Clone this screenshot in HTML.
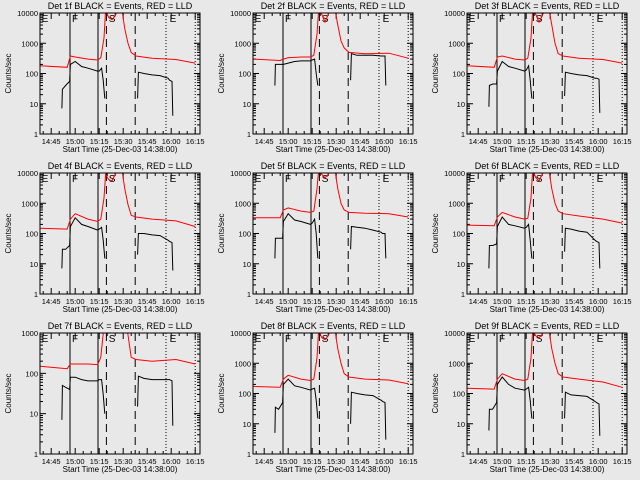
<!DOCTYPE html>
<html><head><meta charset="utf-8"><style>
body{margin:0;background:#e8e8e8}
svg{display:block}
text{font-family:"Liberation Sans",sans-serif;fill:#000}
</style></head><body>
<svg id="c" width="640" height="480"></svg>
<script>
const detectors = ["1f","2f","3f","4f","5f","6f","7f","8f","9f"];
const xTickLabels = ["14:45","15:00","15:15","15:30","15:45","16:00","16:15"];
const xTickMinutes = [7,22,37,52,67,82,97];
const markerMinutes = [18.75,36.25,41.5,59.5,78.75,97];
const markerStyles = ["solid","solid","dash","dash","dot","dot"];
const flagLabels = ["E","F","S","E"];
const flagMinutes = [1,20,43,81];
const redTimes = [0,17,19,22,30,36,38,40,41,43,45,47,49,51,53,55,57,60,70,85,97];
const red1 = [180,160,380,350,300,280,330,1500,12000,7000,6000,8000,15000,15000,3000,1000,500,380,320,290,220];
const red2 = [300,270,300,330,350,350,400,2000,12000,9000,5000,9000,15000,15000,4000,1200,700,500,450,470,320];
const red3 = [180,160,350,380,300,280,320,1500,12000,9000,5000,8000,15000,15000,4000,1000,450,380,320,290,220];
const red4 = [150,140,300,450,300,250,300,1500,9000,6000,5500,9000,15000,15000,3000,900,400,350,300,260,170];
const red5 = [330,330,600,700,550,500,550,3000,12000,9000,7000,9000,15000,15000,3000,1000,600,500,470,450,350];
const red6 = [190,180,350,500,350,300,320,1500,12000,7000,5500,9000,15000,15000,3000,1000,550,450,380,300,220];
const red7 = [150,130,170,170,170,165,250,1500,5000,5000,5000,5000,5000,5000,3000,900,250,220,200,220,170];
const red8 = [170,160,300,400,300,270,300,1500,12000,7000,6000,8000,15000,15000,3000,1000,450,350,300,280,210];
const red9 = [150,140,300,450,300,270,300,1500,12000,8000,7000,9000,15000,15000,3000,1000,450,350,300,240,160];
const blackTimesA = [13.7,14,16,18.5,19,22,26,30,36,37,38.5,39.5,40.5];
const blackA1 = [7,30,40,55,200,250,170,150,120,120,150,60,15];
const blackA2 = [40,200,200,200,200,220,250,260,260,280,300,100,40];
const blackA3 = [8,40,45,45,120,250,170,150,120,130,180,60,15];
const blackA4 = [7,30,30,40,170,330,200,170,130,140,160,60,15];
const blackA5 = [15,70,70,70,250,450,280,250,200,220,300,100,15];
const blackA6 = [7,40,40,45,170,350,200,180,150,160,200,60,15];
const blackA7 = [7,50,45,40,80,80,70,65,65,70,70,30,10];
const blackA8 = [5,35,30,50,200,300,180,160,130,140,150,60,15];
const blackA9 = [6,30,30,50,200,350,200,150,130,140,160,60,15];
const blackTimesB = [61,61.5,65,70,75,80,81,82.5,83];
const blackB1 = [15,110,100,90,85,70,60,55,4];
const blackB2 = [60,450,400,400,400,380,380,380,40];
const blackB3 = [18,110,100,90,85,70,70,65,5];
const blackB4 = [20,100,100,90,85,60,55,50,6];
const blackB5 = [30,170,160,150,130,110,100,100,15];
const blackB6 = [25,150,140,120,110,60,55,50,7];
const blackB7 = [15,85,75,70,70,70,70,65,5];
const blackB8 = [10,110,100,90,85,60,55,50,3];
const blackB9 = [15,110,90,85,80,55,50,45,4];
const reds=[red1,red2,red3,red4,red5,red6,red7,red8,red9];
const bAs=[blackA1,blackA2,blackA3,blackA4,blackA5,blackA6,blackA7,blackA8,blackA9];
const bBs=[blackB1,blackB2,blackB3,blackB4,blackB5,blackB6,blackB7,blackB8,blackB9];

const NS="http://www.w3.org/2000/svg";
const svg=document.getElementById('c');
function mk(tag,attrs,parent){const e=document.createElementNS(NS,tag);for(const k in attrs)e.setAttribute(k,attrs[k]);(parent||svg).appendChild(e);return e;}

for(let p=0;p<9;p++){
  const ox=Math.round((p%3)*213.33), oy=Math.floor(p/3)*160;
  const L=ox+40,R=ox+200,T=oy+13,B=oy+134;
  const decades = p===6?3:4;
  const xs=m=>L+m*1.6;
  const ys=v=>B-Math.log10(Math.max(v,0.5))/decades*(B-T);
  const g=mk('g',{});
  
  
  const cp=mk('clipPath',{id:'cp'+p},g);
  mk('rect',{x:L,y:T,width:R-L,height:B-T},cp);
  const t=mk('text',{x:(L+R)/2,y:oy+9,'text-anchor':'middle','font-size':'9'},g);
  t.textContent='Det '+detectors[p]+' BLACK = Events, RED = LLD';
  
  
  const yl=mk('text',{x:0,y:0,'text-anchor':'middle','font-size':'8',transform:`translate(${ox+11},${(T+B)/2}) rotate(-90)`},g);
  yl.textContent='Counts/sec';
  
  
  const xl=mk('text',{x:(L+R)/2,y:oy+152,'text-anchor':'middle','font-size':'8'},g);
  xl.textContent='Start Time (25-Dec-03 14:38:00)';
  
  
  for(let d=0;d<=decades;d++){
    const y=ys(Math.pow(10,d));
    mk('line',{x1:L,x2:L+6,y1:y,y2:y,stroke:'#000'},g);
    mk('line',{x1:R,x2:R-6,y1:y,y2:y,stroke:'#000'},g);
    const tl=mk('text',{x:L-2,y:y+3,'text-anchor':'end','font-size':'7.5'},g);
    tl.textContent=String(Math.pow(10,d));
    
    
    if(d<decades)for(let k=2;k<10;k++){const yy=ys(k*Math.pow(10,d));
      mk('line',{x1:L,x2:L+3,y1:yy,y2:yy,stroke:'#000'},g);
      mk('line',{x1:R,x2:R-3,y1:yy,y2:yy,stroke:'#000'},g);}
  }
  xTickMinutes.forEach((m,i)=>{
    const x=xs(m);
    mk('line',{x1:x,x2:x,y1:B,y2:B-6,stroke:'#000'},g);
    mk('line',{x1:x,x2:x,y1:T,y2:T+6,stroke:'#000'},g);
    for(let k=1;k<3;k++){const x2=xs(m-k*5);if(x2>L){mk('line',{x1:x2,x2:x2,y1:B,y2:B-3,stroke:'#000'},g);mk('line',{x1:x2,x2:x2,y1:T,y2:T+3,stroke:'#000'},g);}}
    const tl=mk('text',{x:x,y:B+10,'text-anchor':'middle','font-size':'7.5'},g);
    tl.textContent=xTickLabels[i];
    
    
  });
  const cg=mk('g',{'clip-path':`url(#cp${p})`},g);
  markerMinutes.forEach((m,i)=>{
    const x=xs(m);
    const a={x1:x,x2:x,y1:T,y2:B,stroke:'#000','stroke-width':1};
    if(markerStyles[i]==='dash')a['stroke-dasharray']='8,5';
    if(markerStyles[i]==='dot')a['stroke-dasharray']='1,2';
    const ln=mk('line',a,cg);
    
    
  });
  flagLabels.forEach((s,i)=>{
    const ft=mk('text',{x:xs(flagMinutes[i]),y:T+9,'font-size':'10'},cg);
    ft.textContent=s;
    
    
  });
  const path=(ts,vs)=>ts.map((m,i)=>(i?'L':'M')+xs(m).toFixed(1)+','+ys(vs[i]).toFixed(1)).join('');
  const r=mk('path',{d:path(redTimes,reds[p]),fill:'none',stroke:'#ff0000','stroke-width':1},cg);
  
  
  const b1=mk('path',{d:path(blackTimesA,bAs[p]),fill:'none',stroke:'#000','stroke-width':1},cg);
  
  
  const b2=mk('path',{d:path(blackTimesB,bBs[p]),fill:'none',stroke:'#000','stroke-width':1},cg);
  
  
  const box=mk('rect',{x:L,y:T,width:R-L,height:B-T,fill:'none',stroke:'#000'},g);
  
  
}
</script>
</body></html>
